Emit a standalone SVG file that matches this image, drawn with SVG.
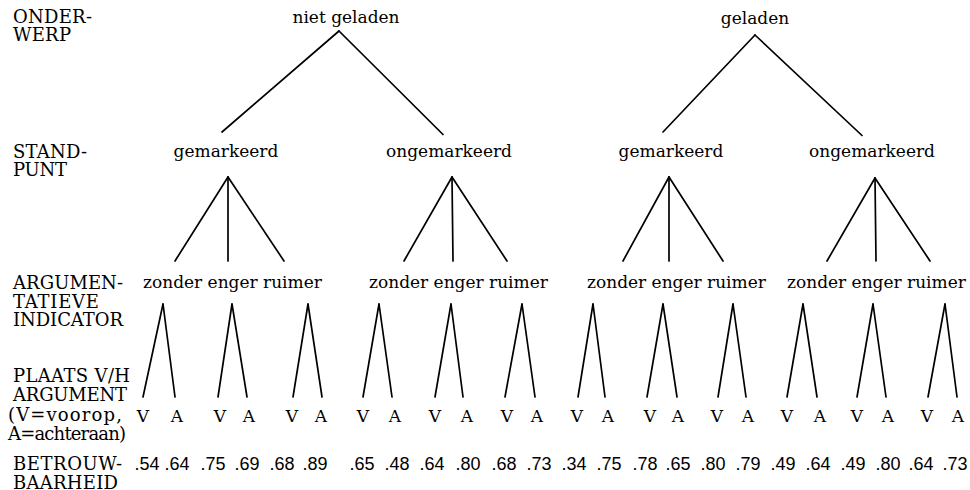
<svg xmlns="http://www.w3.org/2000/svg" width="970" height="490" viewBox="0 0 970 490">
<style>
text{font-family:"DejaVu Serif","Liberation Serif",serif;font-size:17px;fill:#000}
.lab{font-size:18px}
.m{text-anchor:middle}
.num{font-family:"Liberation Sans",Arial,sans-serif;font-size:18px;text-anchor:middle}
#connectors line{stroke:#000;stroke-width:1.7;stroke-linecap:round}
</style>
<rect width="970" height="490" fill="#fff"/>
<g id="row-labels">
<text class="lab" x="13" y="23" textLength="79">ONDER-</text>
<text class="lab" x="13" y="41" textLength="58">WERP</text>
<text class="lab" x="13" y="158" textLength="74">STAND-</text>
<text class="lab" x="13" y="176" textLength="54">PUNT</text>
<text class="lab" x="13" y="289" textLength="110">ARGUMEN-</text>
<text class="lab" x="13" y="307.5" textLength="86">TATIEVE</text>
<text class="lab" x="13" y="326" textLength="110">INDICATOR</text>
<text class="lab" x="13" y="382" textLength="117">PLAATS V/H</text>
<text class="lab" x="13" y="401" textLength="114">ARGUMENT</text>
<text class="lab" x="8" y="421" textLength="114">(V=voorop,</text>
<text class="lab" x="8" y="440" textLength="118">A=achteraan)</text>
<text class="lab" x="13" y="470" textLength="109">BETROUW-</text>
<text class="lab" x="13" y="489" textLength="105">BAARHEID</text>
</g>
<g id="connectors">
<line x1="339" y1="31" x2="222" y2="132"/><line x1="339" y1="31" x2="443" y2="134.5"/>
<line x1="755" y1="35" x2="663" y2="132"/><line x1="755" y1="35" x2="862" y2="135.5"/>
<line x1="228" y1="177" x2="175" y2="261"/><line x1="228" y1="177" x2="228" y2="261"/><line x1="228" y1="177" x2="284" y2="261"/>
<line x1="452" y1="177" x2="404" y2="261"/><line x1="452" y1="177" x2="453" y2="261"/><line x1="452" y1="177" x2="507" y2="261"/>
<line x1="669" y1="177" x2="623" y2="261"/><line x1="669" y1="177" x2="669" y2="261"/><line x1="669" y1="177" x2="723" y2="261"/>
<line x1="875" y1="178" x2="827" y2="261"/><line x1="875" y1="178" x2="876" y2="261"/><line x1="875" y1="178" x2="930" y2="261"/>
<line x1="163" y1="304" x2="143" y2="397"/><line x1="163" y1="304" x2="175" y2="397"/>
<line x1="232" y1="304" x2="218" y2="397"/><line x1="232" y1="304" x2="247" y2="397"/>
<line x1="308" y1="304" x2="293" y2="397"/><line x1="308" y1="304" x2="322" y2="397"/>
<line x1="379" y1="304" x2="363" y2="397"/><line x1="379" y1="304" x2="392" y2="397"/>
<line x1="451" y1="304" x2="435" y2="397"/><line x1="451" y1="304" x2="463" y2="397"/>
<line x1="522" y1="304" x2="505" y2="397"/><line x1="522" y1="304" x2="535" y2="397"/>
<line x1="593" y1="304" x2="578" y2="397"/><line x1="593" y1="304" x2="605" y2="397"/>
<line x1="663" y1="304" x2="647" y2="397"/><line x1="663" y1="304" x2="677" y2="397"/>
<line x1="733" y1="304" x2="718" y2="397"/><line x1="733" y1="304" x2="746" y2="397"/>
<line x1="803" y1="304" x2="787" y2="397"/><line x1="803" y1="304" x2="817" y2="397"/>
<line x1="873" y1="304" x2="857" y2="397"/><line x1="873" y1="304" x2="886" y2="397"/>
<line x1="945" y1="304" x2="928" y2="397"/><line x1="945" y1="304" x2="957" y2="397"/>
</g>
<g id="n-niet-geladen"><text class="m" x="346" y="23">niet geladen</text></g>
<g id="n-geladen"><text class="m" x="755" y="24">geladen</text></g>
<g id="n-ng-gem"><text class="m" x="226" y="157">gemarkeerd</text></g>
<g id="n-ng-ongem"><text class="m" x="449" y="157">ongemarkeerd</text></g>
<g id="n-g-gem"><text class="m" x="671" y="157">gemarkeerd</text></g>
<g id="n-g-ongem"><text class="m" x="872" y="157">ongemarkeerd</text></g>
<g id="n-i1"><text x="143" y="288">zonder</text></g>
<g id="n-i2"><text x="207.6" y="288">enger</text></g>
<g id="n-i3"><text x="263" y="288">ruimer</text></g>
<g id="n-i4"><text x="369" y="288">zonder</text></g>
<g id="n-i5"><text x="433.6" y="288">enger</text></g>
<g id="n-i6"><text x="489" y="288">ruimer</text></g>
<g id="n-i7"><text x="587" y="288">zonder</text></g>
<g id="n-i8"><text x="651.6" y="288">enger</text></g>
<g id="n-i9"><text x="707" y="288">ruimer</text></g>
<g id="n-i10"><text x="787" y="288">zonder</text></g>
<g id="n-i11"><text x="851.6" y="288">enger</text></g>
<g id="n-i12"><text x="907" y="288">ruimer</text></g>
<g id="n-p1"><text class="m" x="143" y="422">V</text><text class="num" x="147" y="470">.54</text></g>
<g id="n-p2"><text class="m" x="177" y="422">A</text><text class="num" x="177" y="470">.64</text></g>
<g id="n-p3"><text class="m" x="220" y="422">V</text><text class="num" x="213" y="470">.75</text></g>
<g id="n-p4"><text class="m" x="249" y="422">A</text><text class="num" x="247" y="470">.69</text></g>
<g id="n-p5"><text class="m" x="292" y="422">V</text><text class="num" x="282" y="470">.68</text></g>
<g id="n-p6"><text class="m" x="321" y="422">A</text><text class="num" x="315" y="470">.89</text></g>
<g id="n-p7"><text class="m" x="363" y="422">V</text><text class="num" x="362" y="470">.65</text></g>
<g id="n-p8"><text class="m" x="395" y="422">A</text><text class="num" x="397" y="470">.48</text></g>
<g id="n-p9"><text class="m" x="435" y="422">V</text><text class="num" x="432" y="470">.64</text></g>
<g id="n-p10"><text class="m" x="467" y="422">A</text><text class="num" x="468" y="470">.80</text></g>
<g id="n-p11"><text class="m" x="507" y="422">V</text><text class="num" x="504" y="470">.68</text></g>
<g id="n-p12"><text class="m" x="537" y="422">A</text><text class="num" x="539" y="470">.73</text></g>
<g id="n-p13"><text class="m" x="577" y="422">V</text><text class="num" x="574" y="470">.34</text></g>
<g id="n-p14"><text class="m" x="608" y="422">A</text><text class="num" x="609" y="470">.75</text></g>
<g id="n-p15"><text class="m" x="650" y="422">V</text><text class="num" x="645" y="470">.78</text></g>
<g id="n-p16"><text class="m" x="678" y="422">A</text><text class="num" x="678" y="470">.65</text></g>
<g id="n-p17"><text class="m" x="717" y="422">V</text><text class="num" x="713" y="470">.80</text></g>
<g id="n-p18"><text class="m" x="748" y="422">A</text><text class="num" x="748" y="470">.79</text></g>
<g id="n-p19"><text class="m" x="787" y="422">V</text><text class="num" x="783" y="470">.49</text></g>
<g id="n-p20"><text class="m" x="820" y="422">A</text><text class="num" x="818" y="470">.64</text></g>
<g id="n-p21"><text class="m" x="857" y="422">V</text><text class="num" x="853" y="470">.49</text></g>
<g id="n-p22"><text class="m" x="888" y="422">A</text><text class="num" x="888" y="470">.80</text></g>
<g id="n-p23"><text class="m" x="927" y="422">V</text><text class="num" x="921" y="470">.64</text></g>
<g id="n-p24"><text class="m" x="958" y="422">A</text><text class="num" x="955" y="470">.73</text></g>
</svg>
